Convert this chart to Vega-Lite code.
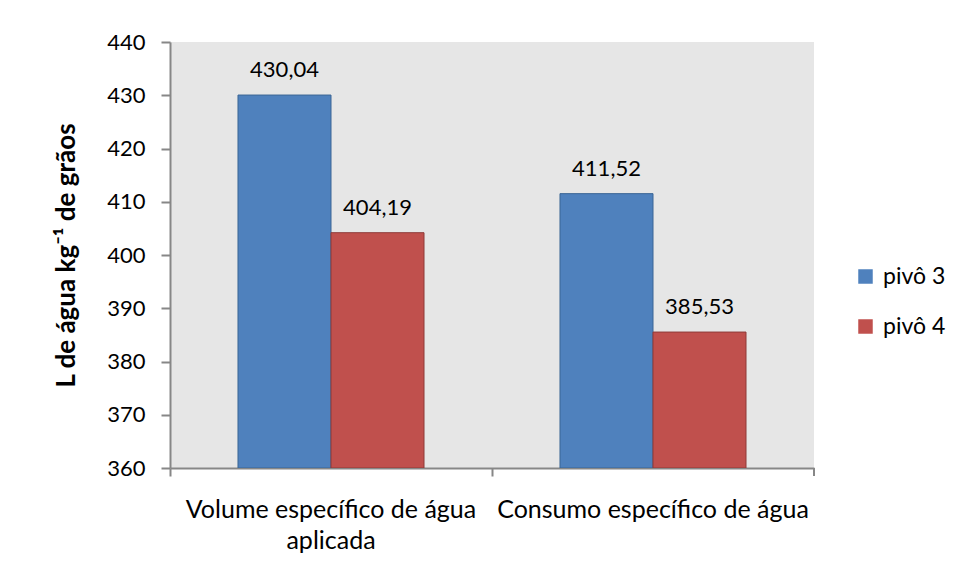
{
  "$schema": "https://vega.github.io/schema/vega-lite/v6.json",
  "width": 644,
  "height": 426,
  "autosize": "none",
  "padding": {"left": 170, "top": 42, "right": 143, "bottom": 113},
  "background": "white",
  "config": {
    "locale": {"number": {"decimal": ",", "thousands": ".", "grouping": [3], "currency": ["", ""]}},
    "font": "Lato",
    "view": {"fill": "#E6E6E6", "stroke": null},
    "axis": {
      "domainColor": "#878787",
      "domainWidth": 2,
      "tickColor": "#878787",
      "tickWidth": 2,
      "labelColor": "#000000",
      "labelFont": "Lato",
      "labelFontSize": 22,
      "titleColor": "#000000",
      "grid": false
    }
  },
  "data": {
    "values": [
      {"categoria": "Volume específico de água aplicada", "pivo": "pivô 3", "valor": 430.04},
      {"categoria": "Volume específico de água aplicada", "pivo": "pivô 4", "valor": 404.19},
      {"categoria": "Consumo específico de água", "pivo": "pivô 3", "valor": 411.52},
      {"categoria": "Consumo específico de água", "pivo": "pivô 4", "valor": 385.53}
    ]
  },
  "encoding": {
    "x": {
      "field": "categoria",
      "type": "nominal",
      "sort": null,
      "title": null,
      "scale": {"paddingInner": 0, "paddingOuter": 0},
      "axis": {
        "labelAngle": 0,
        "tickSize": 8,
        "labelFontSize": 25,
        "labelPadding": 21,
        "labelLineHeight": 31,
        "bandPosition": 0,
        "labelOverlap": false,
        "labelBound": false,
        "labelLimit": 0,
        "labelExpr": "datum.value == 'Volume específico de água aplicada' ? ['Volume específico de água', 'aplicada'] : datum.value"
      }
    }
  },
  "layer": [
    {
      "mark": {"type": "bar", "strokeWidth": 1, "clip": true},
      "encoding": {
        "xOffset": {"field": "pivo", "type": "nominal", "scale": {"paddingInner": 0, "paddingOuter": 0.731}},
        "y": {
          "field": "valor",
          "type": "quantitative",
          "scale": {"domain": [360, 440], "zero": false, "nice": false},
          "axis": {
            "values": [360, 370, 380, 390, 400, 410, 420, 430, 440],
            "tickSize": 9,
            "labelPadding": 16,
            "title": "L de água kg⁻¹ de grãos",
            "titleFontSize": 26,
            "titleFontWeight": "bold",
            "titleFont": "Lato",
            "titlePadding": 27
          }
        },
        "y2": {"datum": 360},
        "color": {
          "field": "pivo",
          "type": "nominal",
          "scale": {"range": ["#4F81BD", "#C0504D"]},
          "legend": {
            "title": null,
            "orient": "none",
            "legendX": 684,
            "legendY": 223,
            "symbolType": "square",
            "symbolSize": 210,
            "symbolStrokeWidth": 0,
            "labelFontSize": 23,
            "labelFont": "Lato",
            "labelColor": "#000000",
            "labelOffset": 6,
            "rowPadding": 26
          }
        },
        "stroke": {
          "field": "pivo",
          "type": "nominal",
          "scale": {"range": ["#3A6595", "#8E3B39"]},
          "legend": null
        }
      }
    },
    {
      "mark": {"type": "text", "baseline": "alphabetic", "dy": -18, "fontSize": 22, "font": "Lato", "color": "#000000"},
      "encoding": {
        "xOffset": {"field": "pivo", "type": "nominal"},
        "y": {"field": "valor", "type": "quantitative"},
        "text": {"field": "valor", "type": "quantitative", "format": ".2f"}
      }
    },
    {
      "data": {"values": [{"categoria": "Consumo específico de água", "base": 360, "fim": 358.5}]},
      "mark": {"type": "rule", "clip": false, "color": "#878787", "strokeWidth": 2},
      "encoding": {
        "x": {"field": "categoria", "type": "nominal", "sort": null, "bandPosition": 1},
        "y": {"field": "base", "type": "quantitative"},
        "y2": {"field": "fim"}
      }
    }
  ]
}
